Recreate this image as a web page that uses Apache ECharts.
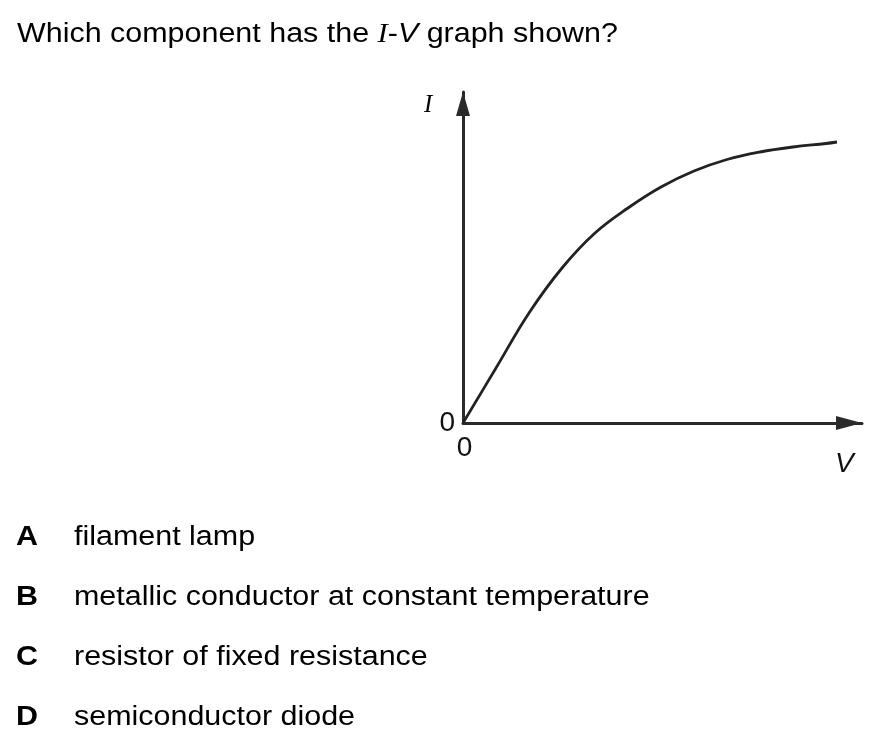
<!DOCTYPE html>
<html><head><meta charset="utf-8">
<script src="https://cdn.jsdelivr.net/npm/echarts@6/dist/echarts.min.js"></script>
<style>html,body{margin:0;padding:0;background:#fff}#c{width:877px;height:742px}</style>
</head><body><div id="c"></div>
<script>
// Data (arbitrary units)
const voltage = [0, 33, 66, 99, 132, 165, 198, 231, 264, 297, 330, 363, 374];
const current = [0, 55, 110, 155, 190, 215, 236, 252, 263.5, 271, 276, 279.5, 281];
const xTickLabels = ['0'];
const yTickLabels = ['0'];
const question = 'Which component has the ';
const questionEnd = ' graph shown?';
const optionLetters = ['A', 'B', 'C', 'D'];
const optionTexts = ['filament lamp', 'metallic conductor at constant temperature', 'resistor of fixed resistance', 'semiconductor diode'];

const chart = echarts.init(document.getElementById('c'), null, {renderer: 'canvas'});
const sans = '"Liberation Sans", Arial, sans-serif';
const narrow = '"Liberation Sans Narrow", "Arial Narrow", "Liberation Sans", sans-serif';
const SX = 1.128;
const graphics = [
  {type: 'text', x: 17, y: 21, scaleX: SX, style: {
    text: '{n|' + question + '}{i|I}{n|-}{v|V}{n|' + questionEnd + '}',
    rich: {
      n: {fontFamily: sans, fontSize: 27, fill: '#000'},
      i: {fontFamily: '"Liberation Serif", serif', fontStyle: 'italic', fontSize: 27, fill: '#000'},
      v: {fontFamily: sans, fontStyle: 'italic', fontSize: 27, fill: '#000'}
    }}},
  {type: 'text', left: 424, top: 93, style: {text: 'I', fontFamily: '"Liberation Serif", serif', fontStyle: 'italic', fontSize: 25, fill: '#000'}},
  {type: 'text', left: 835, top: 450, style: {text: 'V', fontFamily: sans, fontStyle: 'italic', fontSize: 28, fill: '#111'}}
];
optionLetters.forEach((l, i) => {
  graphics.push({type: 'text', x: 16, y: 524.5 + i * 60, scaleX: SX, style: {text: l, fontFamily: sans, fontWeight: 'bold', fontSize: 27, fill: '#000'}});
  graphics.push({type: 'text', x: 74, y: 524.5 + i * 60, scaleX: SX, style: {text: optionTexts[i], fontFamily: sans, fontSize: 27, fill: '#000'}});
});

chart.setOption({
  animation: false,
  backgroundColor: '#fff',
  grid: {left: 463, top: 92, right: 15, bottom: 319, containLabel: false},
  xAxis: {
    type: 'value', min: 0, max: 399, interval: 399,
    axisLine: {lineStyle: {color: '#2a2a2a', width: 3}, symbol: ['none', 'triangle'], symbolSize: [14, 26], symbolOffset: [0, -13]},
    axisTick: {show: false}, splitLine: {show: false},
    axisLabel: {margin: 11, fontFamily: narrow, fontSize: 28, color: '#111', padding: [0, 0, 0, 3],
      formatter: v => v === 0 ? xTickLabels[0] : ''}
  },
  yAxis: {
    type: 'value', min: 0, max: 331, interval: 331,
    axisLine: {lineStyle: {color: '#2a2a2a', width: 3}, symbol: ['none', 'triangle'], symbolSize: [14, 24], symbolOffset: [0, -12]},
    axisTick: {show: false}, splitLine: {show: false},
    axisLabel: {margin: 8, fontFamily: narrow, fontSize: 28, color: '#111',
      formatter: v => v === 0 ? yTickLabels[0] : ''}
  },
  series: [{
    type: 'line', smooth: 0.4, showSymbol: false,
    data: voltage.map((v, i) => [v, current[i]]),
    lineStyle: {color: '#222', width: 2.8}
  }],
  graphic: graphics
});
</script></body></html>
